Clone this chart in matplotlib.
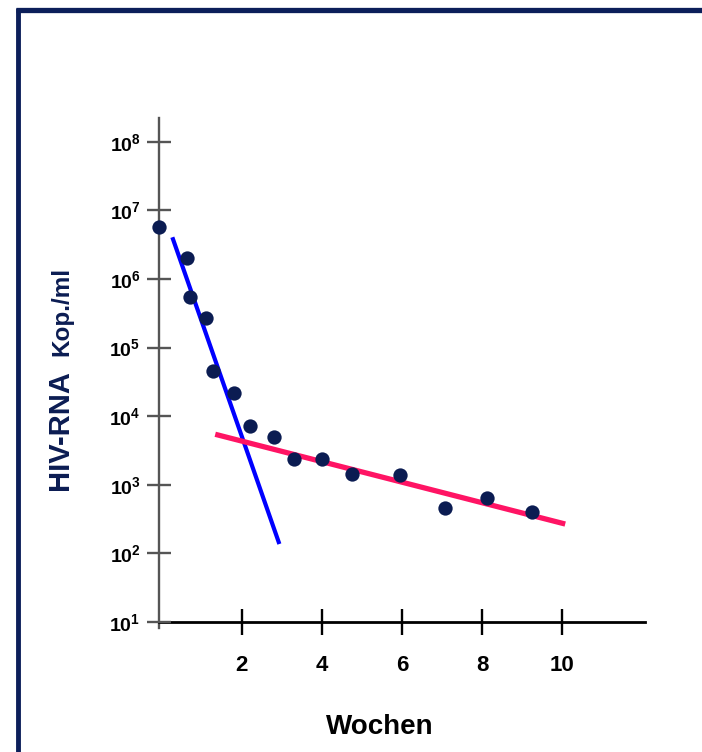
import numpy as np
import matplotlib.pyplot as plt
from matplotlib.lines import Line2D

plt.rcParams['font.family'] = ['Liberation Sans', 'DejaVu Sans']
plt.rcParams['mathtext.fontset'] = 'custom'
plt.rcParams['mathtext.rm'] = 'Liberation Sans'
plt.rcParams['mathtext.bf'] = 'Liberation Sans:bold'

# Messwerte (Wochen, HIV-RNA Kop./ml)
wochen = [-0.06, 0.64, 0.71, 1.11, 1.29, 1.82, 2.21, 2.81, 3.31, 4.00, 4.75, 5.94, 7.06, 8.11, 9.24]
rna = [5.7e6, 2.0e6, 5.4e5, 2.7e5, 4.6e4, 2.2e4, 7.2e3, 4.9e3, 2.35e3, 2.4e3,
       1.44e3, 1.4e3, 454, 635, 405]

# Regressionsgeraden: erste Phase (blau), zweite Phase (rot)
phase1_x = [0.27, 2.94]
phase1_y = [4.06e6, 137]
phase2_x = [1.34, 10.07]
phase2_y = [5.45e3, 268]

xticks = [2, 4, 6, 8, 10]
yexp = [1, 2, 3, 4, 5, 6, 7, 8]

navy = '#0b1c52'

fig = plt.figure(figsize=(7.02, 7.52), dpi=100)
ax = fig.add_axes([159.3 / 702, 130 / 752, (645 - 159.3) / 702, 504 / 752])

ax.plot(phase1_x, phase1_y, color='#0000ff', lw=3.0, solid_capstyle='butt', zorder=2)
ax.plot(phase2_x, phase2_y, color='#ff1464', lw=3.8, solid_capstyle='butt', zorder=2)
ax.plot(wochen, rna, 'o', color=navy, ms=10.3, mec='none', zorder=3, clip_on=False)

ax.set_yscale('log')
ax.set_xlim(-0.055, 12.06)
ax.set_ylim(10 ** 1, 10 ** 8.347)

ax.set_xticks(xticks)
ax.set_xticklabels([str(v) for v in xticks], fontsize=16, fontweight='bold')
ax.set_yticks([10.0 ** e for e in yexp])
ax.set_yticklabels([r'$\mathbf{10^{%d}}$' % e for e in yexp], fontsize=14)
ax.yaxis.set_minor_locator(plt.NullLocator())
ax.xaxis.set_minor_locator(plt.NullLocator())

ax.tick_params(axis='y', direction='inout', length=17, width=1.7, color='#555555', pad=5)
ax.tick_params(axis='x', direction='inout', length=19, width=1.7, color='black', pad=14)

for s in ['top', 'right', 'left']:
    ax.spines[s].set_visible(False)
ax.spines['bottom'].set_linewidth(2.0)
ax.spines['bottom'].set_color('black')
ax.spines['bottom'].set_zorder(1)
# y-Achse etwas unter die x-Achse verlaengert
ax.plot([0, 0], [-6 / 504, 1], transform=ax.transAxes, color='#555555', lw=1.7,
        clip_on=False, zorder=1)

# Achsentitel
fig.text(380 / 702, 1 - 727 / 752, 'Wochen', fontsize=20, fontweight='bold',
         ha='center', va='center')
fig.text(68 / 702, 1 - 490 / 752, 'HIV-RNA', fontsize=21, fontweight='bold', color=navy,
         rotation=90, rotation_mode='anchor', ha='left', va='baseline')
fig.text(68 / 702, 1 - 356 / 752, 'Kop./ml', fontsize=17.5, fontweight='bold', color=navy,
         rotation=90, rotation_mode='anchor', ha='left', va='baseline')

# Rahmen
frame = '#0c1f5a'
fig.add_artist(Line2D([18.3 / 702, 18.3 / 702], [0, 1 - 7.5 / 752], color=frame, lw=3.5,
                      solid_capstyle='butt'))
fig.add_artist(Line2D([16 / 702, 1], [1 - 10 / 752, 1 - 10 / 752], color=frame, lw=3.8,
                      solid_capstyle='butt'))

fig.savefig('out.png', dpi=100)
